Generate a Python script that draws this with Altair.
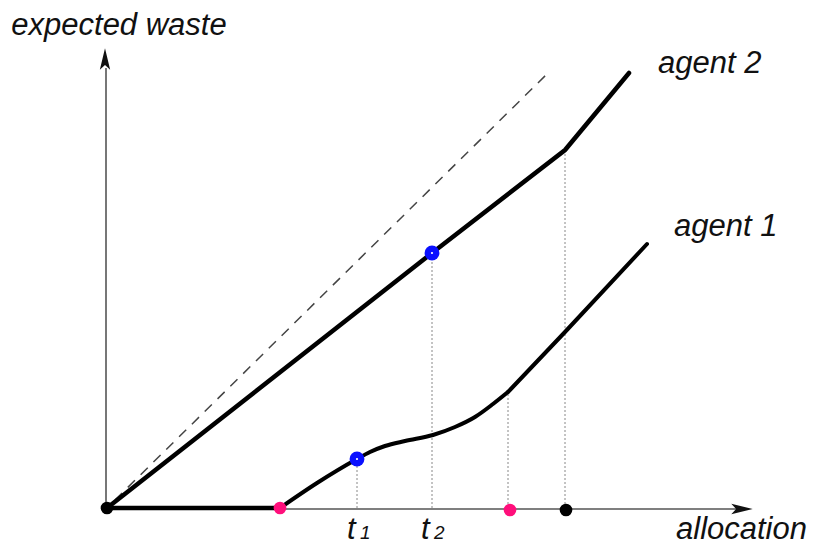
import altair as alt
import pandas as pd

# ---- data (schematic units) ----
agent2_x = [0, 32.5, 45.8, 52.2]
agent2_y = [0, 25.5, 35.8, 43.5]

agent1_flat_x = [0, 17.3]
agent1_flat_y = [0, 0]
agent1_curve_x = [17.3, 21.0, 25.0, 26.3, 27.8, 29.8, 32.6, 34.8, 36.8, 38.6, 40.1]
agent1_curve_y = [0, 2.5, 4.9, 5.6, 6.2, 6.7, 7.3, 8.1, 9.1, 10.4, 11.6]
agent1_tail_x = [40.1, 45.8, 54.0]
agent1_tail_y = [11.6, 17.6, 26.4]

diag_x = [0.8, 44.1]
diag_y = [0.8, 43.5]

drop_x = [25.0, 32.5, 40.1, 45.8]
drop_top = [4.9, 25.5, 11.6, 35.8]

blue_x = [25.0, 32.5]
blue_y = [4.9, 25.5]
pink_x = [17.3, 40.3]
pink_y = [0, -0.2]
black_x = [0, 45.9]
black_y = [0, -0.2]

XD = [-9.9, 70.3]
YD = [-3.9, 50]
xs = alt.Scale(domain=XD, nice=False, zero=False)
ys = alt.Scale(domain=YD, nice=False, zero=False)
FONT = "Liberation Sans"


def line_df(xv, yv):
    return pd.DataFrame({"x": xv, "y": yv, "o": list(range(len(xv)))})


def enc(ch):
    return ch.encode(
        x=alt.X("x:Q", scale=xs, axis=None),
        y=alt.Y("y:Q", scale=ys, axis=None),
        order="o:O",
    )


# axes
xaxis = enc(alt.Chart(line_df([0, 63.0], [-0.1, -0.1])).mark_line(color="#555555", strokeWidth=1.6))
yaxis = enc(alt.Chart(line_df([-0.1, -0.1], [0, 44.0])).mark_line(color="#555555", strokeWidth=1.6))

ARROW = "M0,-1L0.48,1L0,0.55L-0.48,1Z"
arrows = alt.Chart(pd.DataFrame({"x": [-0.2, 63.5], "y": [44.9, -0.1], "a": [0, 90]})).mark_point(
    shape=ARROW, filled=True, color="#111111", size=460, opacity=1
).encode(
    x=alt.X("x:Q", scale=xs, axis=None),
    y=alt.Y("y:Q", scale=ys, axis=None),
    angle=alt.Angle("a:Q", scale=None),
)

diag = enc(alt.Chart(line_df(diag_x, diag_y)).mark_line(color="#444444", strokeWidth=1.5, strokeDash=[10, 8]))

drops = alt.Chart(pd.DataFrame({"x": drop_x, "y": [0] * 4, "y2": drop_top})).mark_rule(
    color="#888888", strokeWidth=1, strokeDash=[2, 2]
).encode(
    x=alt.X("x:Q", scale=xs, axis=None),
    y=alt.Y("y:Q", scale=ys, axis=None),
    y2="y2:Q",
)

a2 = enc(alt.Chart(line_df(agent2_x, agent2_y)).mark_line(color="black", strokeWidth=4.5, strokeCap="round"))
a1a = enc(alt.Chart(line_df(agent1_flat_x, agent1_flat_y)).mark_line(color="black", strokeWidth=4.5))
a1b = enc(alt.Chart(line_df(agent1_curve_x, agent1_curve_y)).mark_line(color="black", strokeWidth=4, interpolate="monotone"))
a1c = enc(alt.Chart(line_df(agent1_tail_x, agent1_tail_y)).mark_line(color="black", strokeWidth=4, strokeCap="round"))


def dots(xv, yv, color, size):
    return alt.Chart(pd.DataFrame({"x": xv, "y": yv})).mark_circle(color=color, size=size, opacity=1).encode(
        x=alt.X("x:Q", scale=xs, axis=None),
        y=alt.Y("y:Q", scale=ys, axis=None),
    )


bdots = dots(black_x, black_y, "black", 160)
pdots = dots(pink_x, pink_y, "#ff0f7b", 160)
bluedots = dots(blue_x, blue_y, "#0a10ff", 220)
bluec = dots(blue_x, blue_y, "white", 5)

labels_df = pd.DataFrame({
    "x": [1.2, 55.1, 56.7, 56.9],
    "y": [47.3, 43.5, 27.2, -3.1],
    "t": ["expected waste", "agent 2", "agent 1", "allocation"],
    "al": ["center", "left", "left", "left"],
})


def txt(df, align, size):
    return alt.Chart(df).mark_text(
        font=FONT, fontStyle="italic", fontSize=size, align=align, baseline="alphabetic", color="#111111"
    ).encode(
        x=alt.X("x:Q", scale=xs, axis=None),
        y=alt.Y("y:Q", scale=ys, axis=None),
        text="t:N",
    )


lab_c = txt(labels_df[labels_df.al == "center"], "center", 31)
lab_l = txt(labels_df[labels_df.al == "left"], "left", 31)

t_df = pd.DataFrame({"x": [24.0, 31.4], "y": [-3.1, -3.1], "t": ["t", "t"]})
sub_df = pd.DataFrame({"x": [25.3, 32.7], "y": [-3.1, -3.1], "t": ["1", "2"]})
tlab = txt(t_df, "left", 31)
sublab = txt(sub_df, "left", 19)

chart = alt.layer(
    xaxis, yaxis, arrows, diag, drops, a2, a1a, a1b, a1c,
    bdots, pdots, bluedots, bluec, lab_c, lab_l, tlab, sublab
).properties(
    width=802, height=539, padding=0, autosize=alt.AutoSizeParams(type="none")
).configure_view(stroke=None)

chart.save("out.html", embed_options={"renderer": "svg", "actions": False})
